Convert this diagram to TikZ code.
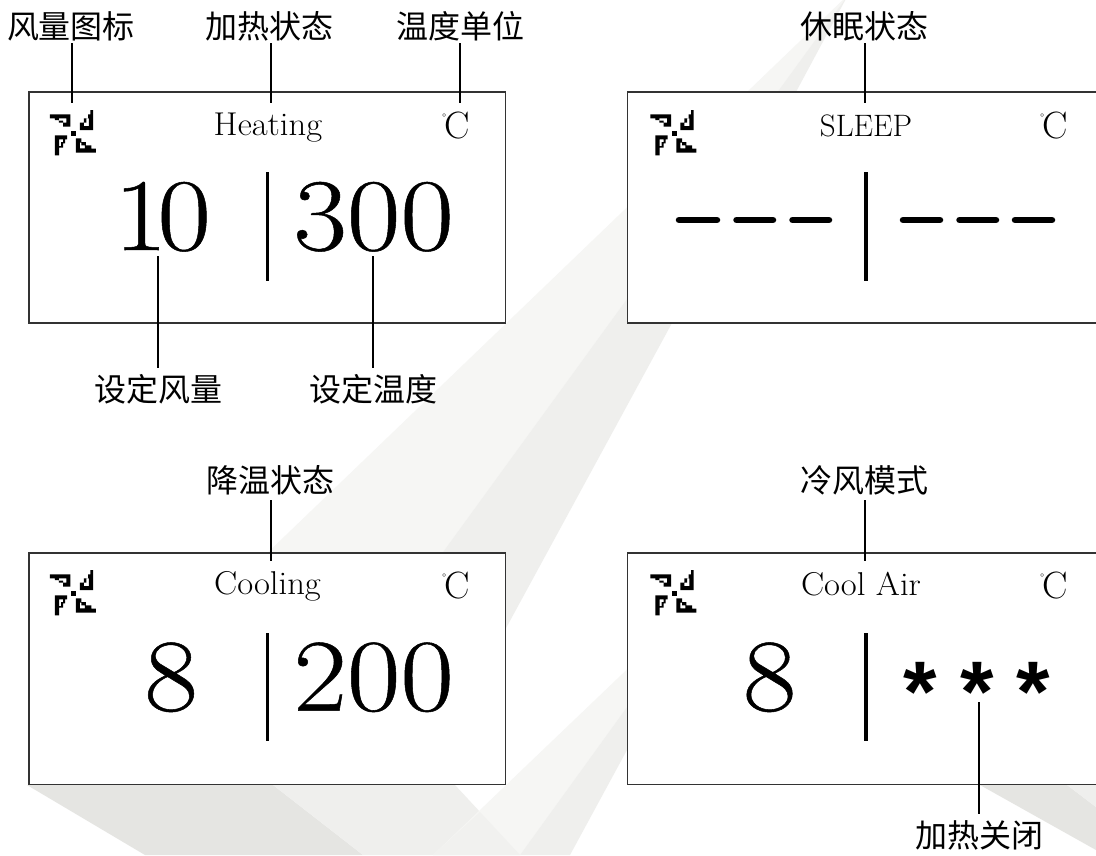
\documentclass[tikz,border=0pt]{standalone}
\usepackage{fontspec}
\newfontfamily\cjk{Noto Sans CJK SC}
\newfontfamily\serifface{Latin Modern Roman}[FakeStretch=1.05]
\newfontfamily\digitface{Latin Modern Roman}[FakeStretch=1.13,FakeBold=0.5]
\newfontfamily\unitface{Latin Modern Roman}
\newfontfamily\starfont{Liberation Sans}[BoldFont={Liberation Sans Bold}]
\definecolor{bgA}{HTML}{F6F6F4}
\definecolor{bgB}{HTML}{EFEFED}
\definecolor{bgC}{HTML}{E5E5E2}
\definecolor{bgD}{HTML}{F1F1EF}
\definecolor{edge}{HTML}{333333}
\tikzset{
  x=1pt,y=-1pt,
  screen/.style={draw=edge,line width=1.5pt,fill=white},
  lab/.style={font=\fontsize{32}{32}\selectfont\cjk,inner sep=0pt,text=black},
  lead/.style={draw=black,line width=2pt},
  divider/.style={draw=black,line width=3.4pt},
  mode/.style={font=\fontsize{33}{33}\selectfont\serifface,inner sep=0pt,anchor=base},
  capsmode/.style={font=\fontsize{31}{31}\selectfont\unitface,inner sep=0pt,anchor=base},
  digits/.style={font=\fontsize{103}{103}\selectfont\digitface,inner sep=0pt,anchor=base east},
  unit/.style={font=\fontsize{38}{38}\selectfont\unitface,inner sep=0pt,anchor=base west},
  dashbar/.style={draw=black,line width=6.5pt,line cap=round},
  star/.style={font=\fontsize{86}{86}\selectfont\starfont\bfseries,inner sep=0pt,anchor=base}
}
\newcommand{\faniconat}[1]{%
\begin{scope}[shift={#1}]
\begin{scope}[x=.3333pt,y=-.3333pt]
\fill[black,even odd rule] (10,25)--(72,25)--(72,62)--(50,62)--(50,50)--(37,50)--(37,42)--(25,42)--(25,37)--(10,37)--cycle
  (37,37)--(60,37)--(60,50)--(50,50)--(50,44)--(37,44)--cycle;
\fill[black,even odd rule] (132,12)--(140,12)--(140,72)--(100,72)--(100,50)--(112,50)--(112,37)--(125,37)--(125,25)--(132,25)--cycle
  (112,60)--(127,60)--(127,37)--(120,37)--(120,50)--(112,50)--cycle;
\fill[black] (75,75) rectangle (90,90);
\fill[black,even odd rule] (25,88)--(62,88)--(62,100)--(56,100)--(56,112)--(50,112)--(50,125)--(38,125)--(38,148)--(25,148)--cycle
  (38,100)--(50,100)--(50,108)--(44,108)--(44,120)--(38,120)--cycle;
\fill[black,even odd rule] (88,97)--(105,97)--(105,108)--(118,108)--(118,118)--(135,118)--(135,128)--(148,128)--(148,140)--(88,140)--cycle
  (100,110)--(105,110)--(105,118)--(115,118)--(115,127)--(100,127)--cycle;
\end{scope}
\end{scope}}
\newcommand{\unittext}{\raisebox{17pt}{\fontsize{11}{11}\selectfont\textdegree}\kern-1.5pt C}
\begin{document}
\begin{tikzpicture}
\useasboundingbox (0,0) rectangle (1096,855);
\begin{scope}
\clip (0,0) rectangle (1096,855);
\fill[white] (0,0) rectangle (1096,855);
% background plane
\fill[bgA] (848,-5)--(260,560)--(443,552)--cycle;
\fill[bgB] (848,-5)--(443,552)--(400,600)--(505,630)--(672,323)--cycle;
\fill[bgC] (27,785)--(273,785)--(363,855)--(145,855)--cycle;
\fill[bgB] (273,785)--(455,785)--(520,855)--(363,855)--cycle;
\fill[bgA] (640,657)--(433,855)--(520,855)--(640,689)--cycle;
\fill[bgD] (480,812)--(520,855)--(433,855)--cycle;
\fill[bgB] (640,689)--(520,855)--(570,855)--(640,726)--cycle;
\fill[bgC] (980,785)--(1096,850)--(1096,807)--(1067,785)--cycle;
\fill[bgB] (1067,785)--(1096,807)--(1096,785)--cycle;
% screens
\draw[screen] (28.8,92) rectangle (505.5,323);
\draw[screen] (627.5,92) rectangle (1110,323);
\draw[screen] (28.8,553) rectangle (505.5,784.5);
\draw[screen] (627.5,553) rectangle (1110,784.5);
\end{scope}
% screen 1
\faniconat{(46.5,106)}
\node[mode] (heat) at (268,135) {Heating};
\node[unit] (u1) at (442,138) {\unittext};
\node[digits] (v1a) at (211,250) {1\kern-10pt 0};
\node[digits] (v1b) at (454,250) {300};
\draw[divider] (267.7,172)--(267.7,281);
% screen 2
\faniconat{(647,106)}
\node[capsmode] (sleep) at (866,136) {SLEEP};
\node[unit] (u2) at (1040,138) {\unittext};
\draw[divider] (866,172)--(866,281);
\draw[dashbar] (679,220)--(717,220);
\draw[dashbar] (736.5,220)--(773,220);
\draw[dashbar] (792.5,220)--(829,220);
\draw[dashbar] (903,220)--(940,220);
\draw[dashbar] (959.5,220)--(996,220);
\draw[dashbar] (1015,220)--(1052,220);
% screen 3
\faniconat{(46.5,566)}
\node[mode] (cool) at (267.5,594) {Cooling};
\node[unit] (u3) at (442,598) {\unittext};
\node[digits] (v3a) at (198,710.5) {8};
\node[digits] (v3b) at (454,710.5) {200};
\draw[divider] (267.7,633)--(267.7,741);
% screen 4
\faniconat{(647,566)}
\node[mode] (air) at (861,595) {Cool Air};
\node[unit] (u4) at (1040,598) {\unittext};
\node[digits] (v4a) at (796.5,710.5) {8};
\draw[divider] (866,633)--(866,741);
\node[star] (s1) at (920,721) {*};
\node[star] (s2) at (977.5,721) {*};
\node[star] (s3) at (1033.5,721) {*};
% labels
\node[lab,minimum height=34pt] (l1) at (71,26) {风量图标};
\node[lab,minimum height=34pt] (l2) at (269,26) {加热状态};
\node[lab,minimum height=34pt] (l3) at (460,26) {温度单位};
\node[lab,minimum height=34pt] (l4) at (864,26) {休眠状态};
\node[lab,minimum height=40pt] (l5) at (270,480) {降温状态};
\node[lab,minimum height=40pt] (l6) at (864,480) {冷风模式};
\node[lab,minimum height=42pt] (l7) at (158.5,389) {设定风量};
\node[lab,minimum height=42pt] (l8) at (373.5,389) {设定温度};
\node[lab,minimum height=42pt] (l9) at (979,835) {加热关闭};
% leader ends
\coordinate (e1) at (72,103);
\coordinate (e2) at (271,103);
\coordinate (e3) at (460,103);
\coordinate (e4) at (865,103);
\coordinate (e5) at (270.5,561);
\coordinate (e6) at (865,561);
\coordinate (e7) at (158,256);
\coordinate (e8) at (373,256);
\coordinate (e9) at (979,702);
\draw[lead] (l1.south -| e1)--(e1);
\draw[lead] (l2.south -| e2)--(e2);
\draw[lead] (l3.south -| e3)--(e3);
\draw[lead] (l4.south -| e4)--(e4);
\draw[lead] (l5.south -| e5)--(e5);
\draw[lead] (l6.south -| e6)--(e6);
\draw[lead] (l7.north -| e7)--(e7);
\draw[lead] (l8.north -| e8)--(e8);
\draw[lead] (l9.north -| e9)--(e9);
\end{tikzpicture}
\end{document}
